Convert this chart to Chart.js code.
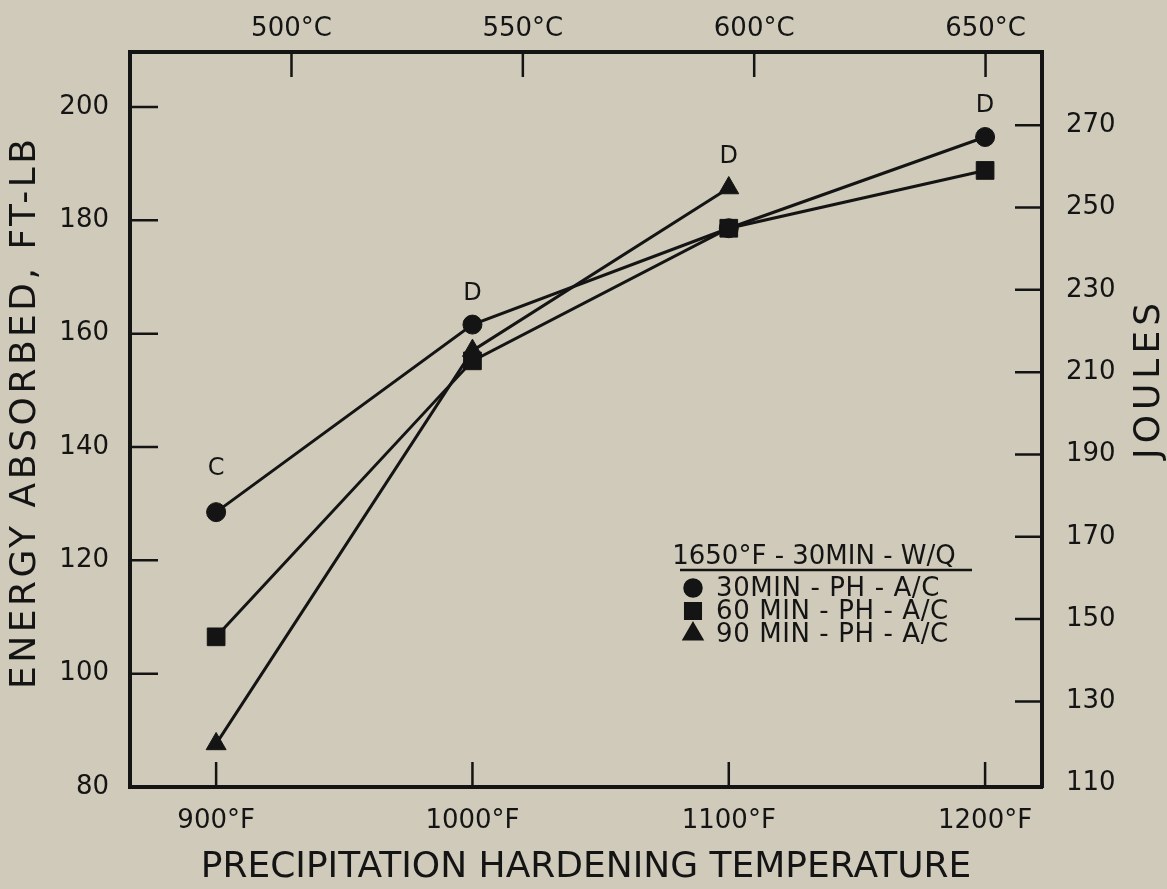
<!DOCTYPE html>
<html>
<head>
<meta charset="utf-8">
<script src="https://cdn.jsdelivr.net/npm/chart.js@4.4.0/dist/chart.umd.min.js"></script>
<style>
  html, body { margin: 0; padding: 0; background: #cfcab9; }
  #wrap { width: 1167px; height: 889px; }
</style>
</head>
<body>
<div id="wrap"><canvas id="c" width="1167" height="889"></canvas></div>
<script>
/* Charpy energy vs. precipitation hardening temperature (1650F - 30 min - W/Q) */

const FONT = "'DejaVu Sans', sans-serif";
const INK = "#141414";

// data
const tempsF = [900, 1000, 1100, 1200];
const ph30 = [128.5, 161.6, 178.6, 194.7];
const ph60 = [106.5, 155.2, 178.6, 188.8];
const ph90 = [87.6, 157.0, 185.7, null];
const fracture = ["C", "D", "D", "D"];

const seriesLabels = ["30MIN - PH - A/C", "60 MIN - PH - A/C", "90 MIN - PH - A/C"];
const seriesStyles = ["circle", "rect", "triangle"];
const legendHeader = "1650°F - 30MIN - W/Q";

// tick labels
const ftlbTicks = [80, 100, 120, 140, 160, 180, 200];
const jouleTicks = [110, 130, 150, 170, 190, 210, 230, 250, 270];
const fTicks = [900, 1000, 1100, 1200];
const cTicks = [500, 550, 600, 650];

function pts(vals) {
  return tempsF.map((t, i) => ({ x: t, y: vals[i] })).filter(p => p.y !== null);
}

function fixTicks(list) {
  return s => { s.ticks = list.map(v => ({ value: v })); };
}

const tickFont = { family: FONT, size: 26 };

// inward tick marks on all four sides of the frame
const frameTicks = {
  id: "frameTicks",
  afterDraw(chart) {
    const { ctx, chartArea: a, scales } = chart;
    ctx.save();
    ctx.strokeStyle = INK;
    ctx.lineWidth = 2.5;
    ctx.beginPath();
    scales.y.ticks.forEach(t => {
      const p = scales.y.getPixelForValue(t.value);
      if (p > a.bottom - 8) return;
      ctx.moveTo(a.left, p); ctx.lineTo(a.left + 28, p);
    });
    scales.y2.ticks.forEach(t => {
      const p = scales.y2.getPixelForValue(t.value);
      if (p > a.bottom - 8) return;
      ctx.moveTo(a.right, p); ctx.lineTo(a.right - 27, p);
    });
    scales.x.ticks.forEach(t => {
      const p = scales.x.getPixelForValue(t.value);
      ctx.moveTo(p, a.bottom); ctx.lineTo(p, a.bottom - 25);
    });
    scales.x2.ticks.forEach(t => {
      const p = scales.x2.getPixelForValue(t.value);
      ctx.moveTo(p, a.top); ctx.lineTo(p, a.top + 25);
    });
    ctx.stroke();
    ctx.restore();
  }
};

function rotatedText(ctx, text, x, y, size, spacing) {
  ctx.save();
  ctx.font = size + "px " + FONT;
  ctx.letterSpacing = spacing + "px";
  ctx.translate(x, y);
  ctx.rotate(-Math.PI / 2);
  ctx.fillText(text, spacing / 2, 0);
  ctx.restore();
}

// fracture letters above each temperature, side titles, legend box
const extras = {
  id: "extras",
  afterDraw(chart) {
    const { ctx, chartArea: a, scales } = chart;
    ctx.save();
    ctx.fillStyle = INK;
    ctx.textAlign = "center";
    ctx.textBaseline = "middle";

    ctx.font = "24px " + FONT;
    tempsF.forEach((t, i) => {
      const top = Math.max(...[ph30[i], ph60[i], ph90[i]].filter(v => v !== null));
      const x = scales.x.getPixelForValue(t);
      const y = scales.y.getPixelForValue(top) - (i === 0 ? 43 : 31);
      ctx.fillText(fracture[i], x, y);
    });

    // both side titles read bottom to top
    rotatedText(ctx, "ENERGY ABSORBED, FT-LB", 26, 414, 36, 3.5);
    rotatedText(ctx, "JOULES", 1150, 381, 36, 5);

    // legend
    const lx = a.left + 550, ly = a.top + 505;
    ctx.font = "26px " + FONT;
    ctx.fillText(legendHeader, lx + 134, ly);
    ctx.lineWidth = 2.5;
    ctx.strokeStyle = INK;
    ctx.beginPath();
    ctx.moveTo(lx, ly + 13); ctx.lineTo(lx + 292, ly + 13);
    ctx.stroke();
    ctx.textAlign = "left";
    ctx.letterSpacing = "0.6px";
    const sizes = { circle: 8.5, rect: 11, triangle: 10.5 };
    seriesLabels.forEach((lab, i) => {
      const y = ly + 31 + i * 23;
      Chart.helpers.drawPoint(ctx, { pointStyle: seriesStyles[i], radius: sizes[seriesStyles[i]], rotation: 0, borderWidth: 1 }, lx + 13, y);
      ctx.fill();
      ctx.fillText(lab, lx + 36, y + 1);
    });
    ctx.restore();
  }
};

function series(i, vals, radius) {
  return {
    label: seriesLabels[i],
    data: pts(vals),
    borderColor: INK,
    borderWidth: 3,
    backgroundColor: INK,
    pointStyle: seriesStyles[i],
    pointRadius: radius,
    pointBackgroundColor: INK,
    pointBorderColor: INK,
    pointBorderWidth: 1,
    tension: 0,
    order: i === 1 ? 0 : i + 1
  };
}

new Chart(document.getElementById("c"), {
  type: "line",
  data: {
    datasets: [series(0, ph30, 9.5), series(1, ph60, 12.5), series(2, ph90, 11.5)]
  },
  options: {
    responsive: false,
    animation: false,
    layout: { padding: 0 },
    plugins: { legend: { display: false }, tooltip: { enabled: false } },
    scales: {
      x: {
        type: "linear", position: "bottom", min: 866.4, max: 1222.2,
        afterBuildTicks: fixTicks(fTicks),
        afterFit: s => { s.height = 102; },
        grid: { display: false, drawTicks: false },
        border: { display: true, color: INK, width: 4 },
        ticks: { color: INK, font: tickFont, padding: 19, autoSkip: false, maxRotation: 0, callback: v => v + "°F" },
        title: { display: true, text: "PRECIPITATION HARDENING TEMPERATURE", color: INK, font: { family: FONT, size: 36 }, padding: { top: 7, bottom: 0 } }
      },
      x2: {
        type: "linear", position: "top", min: 465.1, max: 662.2,
        afterBuildTicks: fixTicks(cTicks),
        afterFit: s => { s.height = 52; },
        grid: { display: false, drawTicks: false },
        border: { display: true, color: INK, width: 4 },
        ticks: { color: INK, font: tickFont, padding: 7, autoSkip: false, maxRotation: 0, callback: v => v + "°C" }
      },
      y: {
        type: "linear", position: "left", min: 80, max: 209.7,
        afterBuildTicks: fixTicks(ftlbTicks),
        afterFit: s => { s.width = 130; },
        grid: { display: false, drawTicks: false },
        border: { display: true, color: INK, width: 4 },
        ticks: { color: INK, font: tickFont, padding: 21, autoSkip: false }
      },
      y2: {
        type: "linear", position: "right", min: 109.2, max: 287.8,
        afterBuildTicks: fixTicks(jouleTicks),
        afterFit: s => { s.width = 125; },
        grid: { display: false, drawTicks: false },
        border: { display: true, color: INK, width: 4 },
        ticks: { color: INK, font: tickFont, padding: 24, autoSkip: false }
      }
    }
  },
  plugins: [frameTicks, extras]
});
</script>
</body>
</html>
